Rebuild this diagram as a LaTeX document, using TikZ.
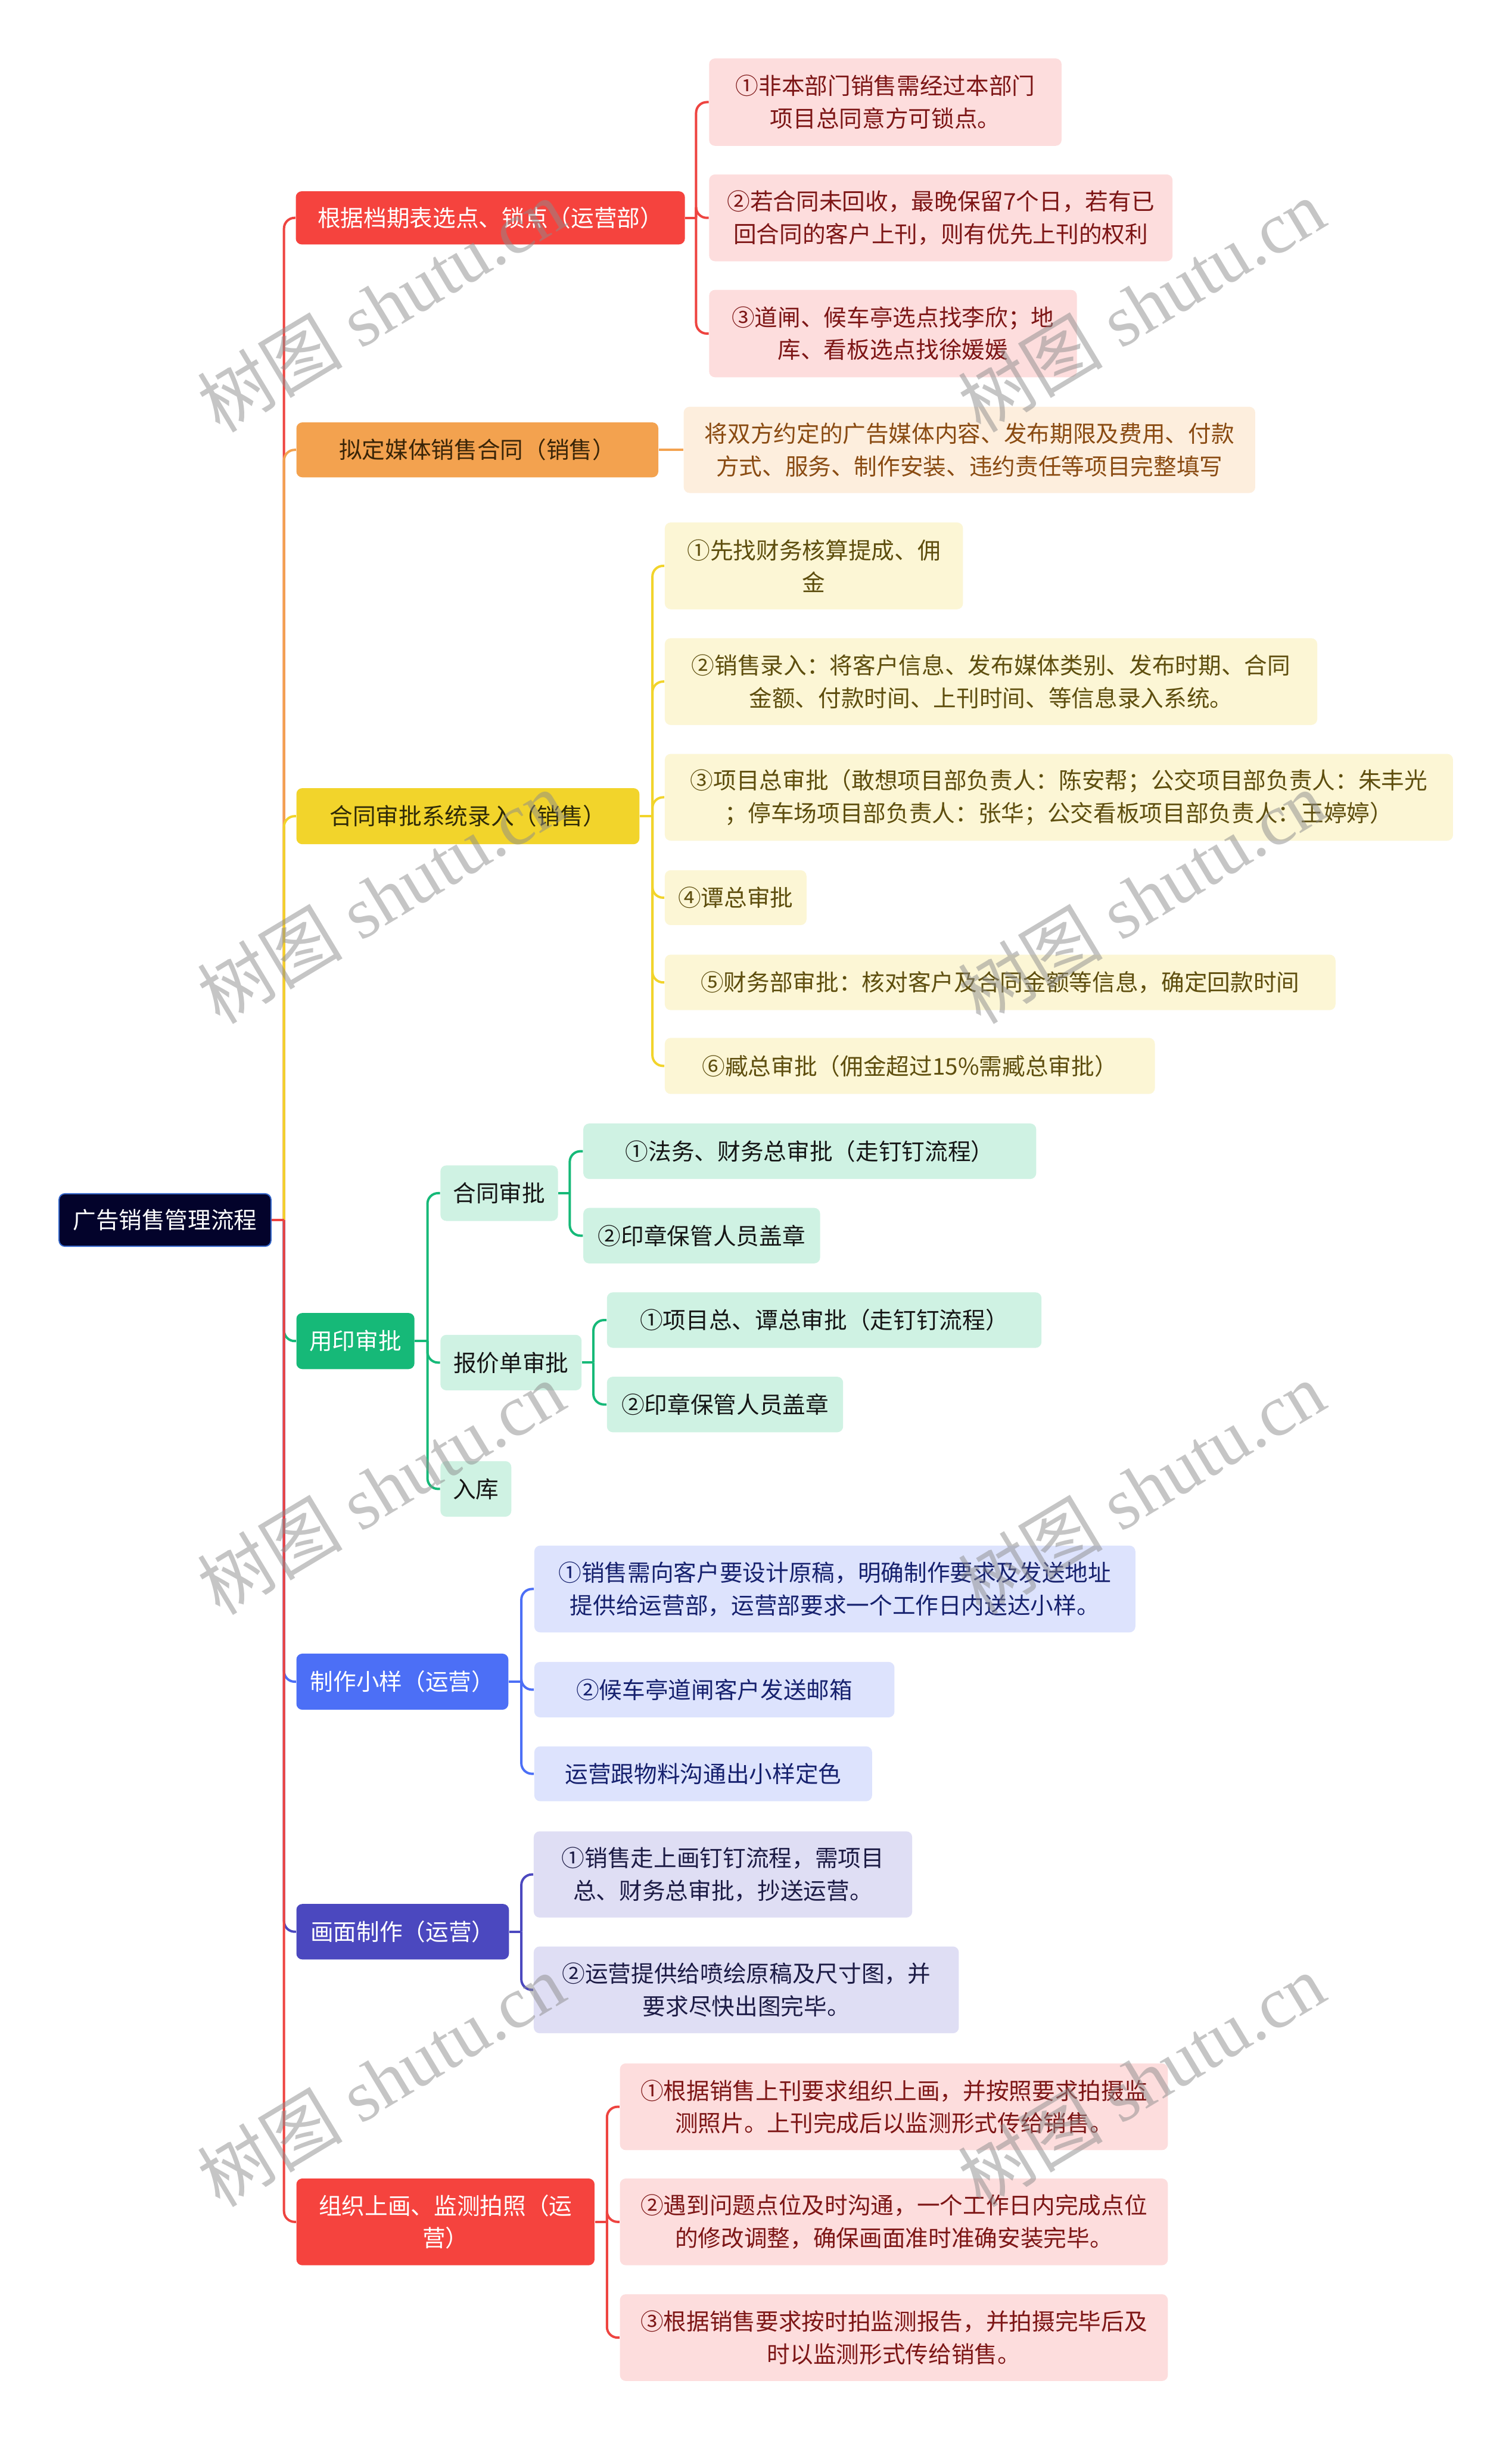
\documentclass[tikz,border=0pt]{standalone}
\usepackage{fontspec}
\newfontfamily\cjk{Noto Sans CJK SC}
\newfontfamily\wmlatin{Liberation Serif}
\definecolor{cRed}{HTML}{F5433E}
\definecolor{cRedLine}{HTML}{EE4440}
\definecolor{cPink}{HTML}{FDDDDD}
\definecolor{cPinkText}{HTML}{7D1616}
\definecolor{cOrange}{HTML}{F3A24F}
\definecolor{cOrangeText}{HTML}{3A2508}
\definecolor{cPeach}{HTML}{FDEEDD}
\definecolor{cPeachText}{HTML}{8A4B12}
\definecolor{cYellow}{HTML}{F2D42B}
\definecolor{cYellowText}{HTML}{2F2A08}
\definecolor{cCream}{HTML}{FCF6D5}
\definecolor{cCreamText}{HTML}{5E4E0E}
\definecolor{cGreen}{HTML}{16B978}
\definecolor{cMint}{HTML}{CFF2E3}
\definecolor{cMintText}{HTML}{151515}
\definecolor{cBlue}{HTML}{4C6FF6}
\definecolor{cSky}{HTML}{DDE3FD}
\definecolor{cSkyText}{HTML}{16216E}
\definecolor{cIndigo}{HTML}{4B48BF}
\definecolor{cLav}{HTML}{DFDEF4}
\definecolor{cLavText}{HTML}{1C1B45}
\definecolor{cNavy}{HTML}{03032B}
\definecolor{cNavyEdge}{HTML}{3566C9}
\definecolor{cWater}{HTML}{8C8C8C}
\tikzset{
  box/.style={rounded corners=0.1cm, inner sep=0pt, align=center,
    font=\cjk\fontsize{11.1}{15.65}\selectfont},
  rootbox/.style={box, fill=cNavy, draw=cNavyEdge, line width=0.02cm, text=white},
  redL/.style={box, fill=cRed, text=white},
  orangeL/.style={box, fill=cOrange, text=cOrangeText},
  yellowL/.style={box, fill=cYellow, text=cYellowText},
  greenL/.style={box, fill=cGreen, text=white},
  blueL/.style={box, fill=cBlue, text=white},
  indigoL/.style={box, fill=cIndigo, text=white},
  pinkC/.style={box, fill=cPink, text=cPinkText},
  peachC/.style={box, fill=cPeach, text=cPeachText},
  creamC/.style={box, fill=cCream, text=cCreamText},
  mintC/.style={box, fill=cMint, text=cMintText},
  skyC/.style={box, fill=cSky, text=cSkyText},
  lavC/.style={box, fill=cLav, text=cLavText},
  conn/.style={line width=0.04cm, rounded corners=0.18cm},
  wmark/.style={rotate=31, text=cWater, text opacity=0.5, inner sep=0pt}
}
\begin{document}
\begin{tikzpicture}
\useasboundingbox[fill=white] (0,0) rectangle (25.6,-41.33);

% root
\node[rootbox, minimum width=3.59cm, minimum height=0.89cm] (R) at (2.795,-20.665) {广告销售管理流程};

% level 1
\node[redL, minimum width=6.59cm, minimum height=0.90cm] (A) at (8.305,-3.69) {根据档期表选点、锁点（运营部）};
\node[orangeL, minimum width=6.13cm, minimum height=0.93cm] (B) at (8.085,-7.62) {拟定媒体销售合同（销售）};
\node[yellowL, minimum width=5.81cm, minimum height=0.95cm] (C) at (7.925,-13.825) {合同审批系统录入（销售）};
\node[greenL, minimum width=2.00cm, minimum height=0.95cm] (D) at (6.02,-22.715) {用印审批};
\node[blueL, minimum width=3.59cm, minimum height=0.95cm] (E) at (6.815,-28.485) {制作小样（运营）};
\node[indigoL, minimum width=3.60cm, minimum height=0.94cm] (F) at (6.82,-32.72) {画面制作（运营）};
\node[redL, minimum width=5.05cm, minimum height=1.47cm] (G) at (7.545,-37.635) {组织上画、监测拍照（运\\营）};

% A children
\node[pinkC, minimum width=5.97cm, minimum height=1.48cm] (A1) at (14.995,-1.73) {①非本部门销售需经过本部门\\项目总同意方可锁点。};
\node[pinkC, minimum width=7.85cm, minimum height=1.47cm] (A2) at (15.935,-3.69) {②若合同未回收，最晚保留7个日，若有已\\回合同的客户上刊，则有优先上刊的权利};
\node[pinkC, minimum width=6.23cm, minimum height=1.48cm] (A3) at (15.125,-5.65) {③道闸、候车亭选点找李欣；地\\库、看板选点找徐媛媛};

% B child
\node[peachC, minimum width=9.68cm, minimum height=1.46cm] (B1) at (16.42,-7.62) {将双方约定的广告媒体内容、发布期限及费用、付款\\方式、服务、制作安装、违约责任等项目完整填写};

% C children
\node[creamC, minimum width=5.05cm, minimum height=1.47cm] (C1) at (13.785,-9.585) {①先找财务核算提成、佣\\金};
\node[creamC, minimum width=11.05cm, minimum height=1.47cm] (C2) at (16.785,-11.545) {②销售录入：将客户信息、发布媒体类别、发布时期、合同\\金额、付款时间、上刊时间、等信息录入系统。};
\node[creamC, minimum width=13.35cm, minimum height=1.47cm] (C3) at (17.935,-13.505) {③项目总审批（敢想项目部负责人：陈安帮；公交项目部负责人：朱丰光\\；停车场项目部负责人：张华；公交看板项目部负责人：王婷婷）};
\node[creamC, minimum width=2.40cm, minimum height=0.93cm] (C4) at (12.46,-15.205) {④谭总审批};
\node[creamC, minimum width=11.36cm, minimum height=0.94cm] (C5) at (16.94,-16.64) {⑤财务部审批：核对客户及合同金额等信息，确定回款时间};
\node[creamC, minimum width=8.30cm, minimum height=0.95cm] (C6) at (15.41,-18.055) {⑥臧总审批（佣金超过15\%需臧总审批）};

% D children
\node[mintC, minimum width=1.99cm, minimum height=0.94cm] (D1) at (8.455,-20.21) {合同审批};
\node[mintC, minimum width=2.39cm, minimum height=0.94cm] (D2) at (8.655,-23.08) {报价单审批};
\node[mintC, minimum width=1.20cm, minimum height=0.94cm] (D3) at (8.06,-25.22) {入库};
\node[mintC, minimum width=7.67cm, minimum height=0.94cm] (D1a) at (13.715,-19.50) {①法务、财务总审批（走钉钉流程）};
\node[mintC, minimum width=4.01cm, minimum height=0.94cm] (D1b) at (11.885,-20.93) {②印章保管人员盖章};
\node[mintC, minimum width=7.36cm, minimum height=0.94cm] (D2a) at (13.96,-22.36) {①项目总、谭总审批（走钉钉流程）};
\node[mintC, minimum width=4.00cm, minimum height=0.94cm] (D2b) at (12.28,-23.79) {②印章保管人员盖章};

% E children
\node[skyC, minimum width=10.18cm, minimum height=1.47cm] (E1) at (14.14,-26.915) {①销售需向客户要设计原稿，明确制作要求及发送地址\\提供给运营部，运营部要求一个工作日内送达小样。};
\node[skyC, minimum width=6.10cm, minimum height=0.94cm] (E2) at (12.10,-28.62) {②候车亭道闸客户发送邮箱};
\node[skyC, minimum width=5.72cm, minimum height=0.93cm] (E3) at (11.91,-30.045) {运营跟物料沟通出小样定色};

% F children
\node[lavC, minimum width=6.41cm, minimum height=1.46cm] (F1) at (12.245,-31.75) {①销售走上画钉钉流程，需项目\\总、财务总审批，抄送运营。};
\node[lavC, minimum width=7.20cm, minimum height=1.47cm] (F2) at (12.64,-33.705) {②运营提供给喷绘原稿及尺寸图，并\\要求尽快出图完毕。};

% G children
\node[pinkC, minimum width=9.28cm, minimum height=1.47cm] (G1) at (15.14,-35.685) {①根据销售上刊要求组织上画，并按照要求拍摄监\\测照片。上刊完成后以监测形式传给销售。};
\node[pinkC, minimum width=9.28cm, minimum height=1.47cm] (G2) at (15.14,-37.635) {②遇到问题点位及时沟通，一个工作日内完成点位\\的修改调整，确保画面准时准确安装完毕。};
\node[pinkC, minimum width=9.28cm, minimum height=1.47cm] (G3) at (15.14,-39.595) {③根据销售要求按时拍监测报告，并拍摄完毕后及\\时以监测形式传给销售。};

% bus coordinates
\coordinate (T) at (4.81,-20.665);
\coordinate (Ab) at (11.79,-3.69);
\coordinate (Cb) at (11.05,-13.825);
\coordinate (Db) at (7.24,-22.715);
\coordinate (Dab) at (9.65,-20.21);
\coordinate (Dbb) at (10.05,-23.08);
\coordinate (Eb) at (8.83,-28.485);
\coordinate (Fb) at (8.83,-32.72);
\coordinate (Gb) at (10.28,-37.635);

% trunk
\draw[conn, cRedLine] (T) |- (A.west);
\draw[conn, cOrange] (T) |- (B.west);
\draw[conn, cYellow] (T) |- (C.west);
\draw[conn, cGreen] (T) |- (D.west);
\draw[conn, cBlue] (T) |- (E.west);
\draw[conn, cIndigo] (T) |- (F.west);
\draw[conn, cRedLine] (T) |- (G.west);
\draw[conn, cRedLine] (R.east) -- (T);

% A
\draw[conn, cRedLine] (A.east) -- (Ab);
\draw[conn, cRedLine] (Ab) |- (A1.west);
\draw[conn, cRedLine] (Ab) |- (A2.west);
\draw[conn, cRedLine] (Ab) |- (A3.west);
% B
\draw[conn, cOrange] (B.east) -- (B1.west);
% C
\draw[conn, cYellow] (C.east) -- (Cb);
\foreach \n in {C1,C2,C3,C4,C5,C6} \draw[conn, cYellow] (Cb) |- (\n.west);
% D
\draw[conn, cGreen] (D.east) -- (Db);
\foreach \n in {D1,D2,D3} \draw[conn, cGreen] (Db) |- (\n.west);
\draw[conn, cGreen] (D1.east) -- (Dab);
\draw[conn, cGreen] (Dab) |- (D1a.west);
\draw[conn, cGreen] (Dab) |- (D1b.west);
\draw[conn, cGreen] (D2.east) -- (Dbb);
\draw[conn, cGreen] (Dbb) |- (D2a.west);
\draw[conn, cGreen] (Dbb) |- (D2b.west);
% E
\draw[conn, cBlue] (E.east) -- (Eb);
\foreach \n in {E1,E2,E3} \draw[conn, cBlue] (Eb) |- (\n.west);
% F
\draw[conn, cIndigo] (F.east) -- (Fb);
\foreach \n in {F1,F2} \draw[conn, cIndigo] (Fb) |- (\n.west);
% G
\draw[conn, cRedLine] (G.east) -- (Gb);
\foreach \n in {G1,G2,G3} \draw[conn, cRedLine] (Gb) |- (\n.west);

% watermarks
\foreach \wx/\wy [count=\k] in {6.45/-5.17, 19.33/-5.17, 6.45/-15.19, 19.33/-15.19, 6.45/-25.20, 19.33/-25.20, 6.45/-35.23, 19.33/-35.23}
  \node[wmark] (W\k) at (\wx,\wy) {\fontsize{35}{40}\selectfont\cjk 树图\wmlatin{} shutu.cn};
\end{tikzpicture}
\end{document}
